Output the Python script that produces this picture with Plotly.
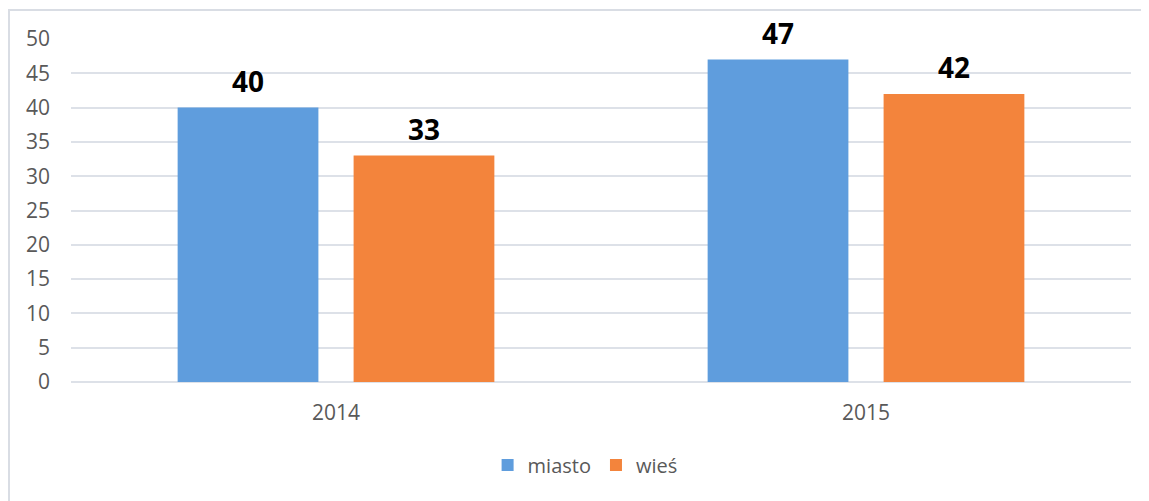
import plotly.graph_objects as go

years = ["2014", "2015"]
miasto = [40, 47]
wies = [33, 42]
y_ticks = [0, 5, 10, 15, 20, 25, 30, 35, 40, 45, 50]

def label(v):
    return f"<span style='font-size:28px'>{v}</span><br> "

fig = go.Figure()
fig.add_trace(go.Bar(
    name="miasto", x=years, y=miasto, marker=dict(color="#5f9ddd", line=dict(width=0)),
    text=[label(v) for v in miasto], textposition="outside",
    textfont=dict(family="Open Sans", size=8, color="black", weight="bold"),
    cliponaxis=False,
))
fig.add_trace(go.Bar(
    name="wieś", x=years, y=wies, marker=dict(color="#f3843c", line=dict(width=0)),
    text=[label(v) for v in wies], textposition="outside",
    textfont=dict(family="Open Sans", size=8, color="black", weight="bold"),
    cliponaxis=False,
))

fig.update_layout(
    width=1149, height=501,
    margin=dict(l=63, r=26, t=31, b=127, autoexpand=False),
    paper_bgcolor="white", plot_bgcolor="white",
    barmode="group", bargap=0.336, bargroupgap=0.2,
    uniformtext=dict(mode=False),
    font=dict(family="Open Sans", color="#595959", size=20),
    showlegend=True,
    legend=dict(orientation="h", x=0.485, xanchor="center", y=-0.185, yanchor="top",
                font=dict(size=20, color="#595959"), itemwidth=30, traceorder="normal"),
    xaxis=dict(showgrid=False, showline=False, ticks="", ticklabelstandoff=16,
               tickfont=dict(size=21, color="#595959")),
    yaxis=dict(range=[0, 50], tickvals=y_ticks, showgrid=True, gridcolor="#dde1e8", gridwidth=1.5,
               zeroline=True, zerolinecolor="#dde1e8", zerolinewidth=1.5,
               showline=False, ticks="", ticklabelstandoff=20,
               tickfont=dict(size=21, color="#595959")),
    shapes=[dict(type="rect", xref="paper", yref="paper", x0=-0.0585, x1=1.1, y0=-0.6, y1=1.0845,
                 line=dict(color="#d9dde4", width=2), fillcolor="rgba(0,0,0,0)", layer="below")],
)

fig.write_html("out.html")
